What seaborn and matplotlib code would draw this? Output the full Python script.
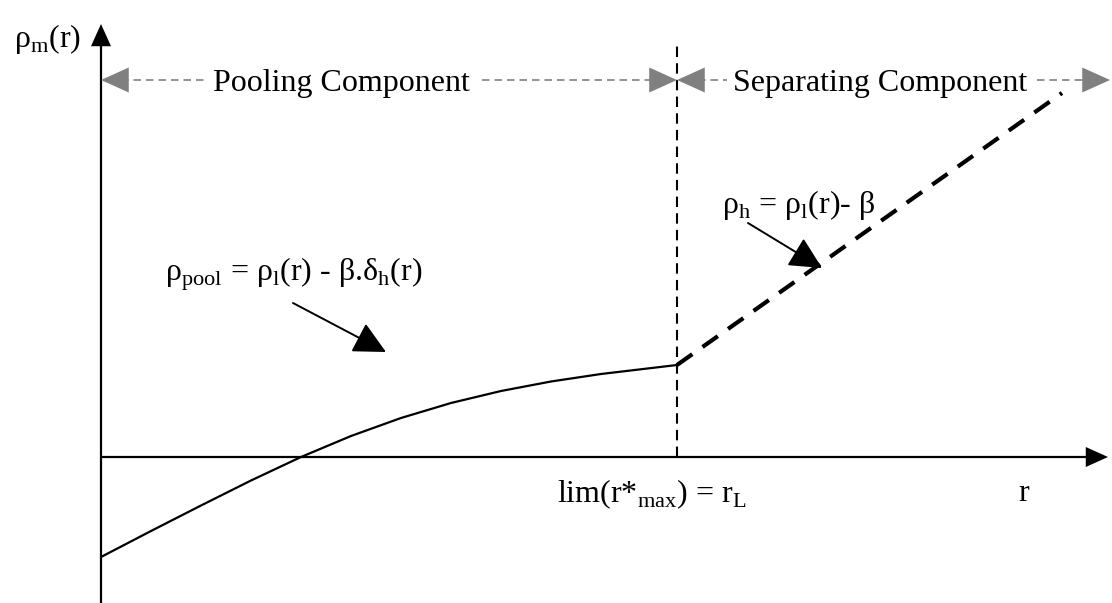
import numpy as np
import pandas as pd
import matplotlib
matplotlib.use('Agg')
import matplotlib.pyplot as plt
import seaborn as sns

# schematic values, origin at the axes crossing (r, rho)
pool_r = [0, 50, 100, 150, 200, 250, 300, 350, 400, 450, 500, 576]
pool_rho = [-100, -74, -48.5, -23.5, 0, 21, 39, 54, 66, 75.5, 83, 92]
sep_r = [576, 961]
sep_rho = [92, 364]
r_L = 576
labels = {
    'ylab': 'ρ$_\\mathregular{m}$(r)',
    'xlab': 'r',
    'pool': 'Pooling Component',
    'sep': 'Separating Component',
    'rL': 'lim(r*$_\\mathregular{max}$) = r$_\\mathregular{L}$',
    'pool_eq': 'ρ$_\\mathregular{pool}$ = ρ$_\\mathregular{l}$(r) - β.δ$_\\mathregular{h}$(r)',
    'sep_eq': 'ρ$_\\mathregular{h}$ = ρ$_\\mathregular{l}$(r)- β',
}

sns.set_style('white')
plt.rcParams['font.family'] = ['Liberation Serif', 'DejaVu Serif']
plt.rcParams['mathtext.fontset'] = 'custom'
plt.rcParams['mathtext.rm'] = 'Liberation Serif'
plt.rcParams['text.color'] = 'black'

fig = plt.figure(figsize=(11.12, 6.03), dpi=100)
ax = fig.add_axes([0, 0, 1, 1])
ax.set_xlim(-101, 1011)
ax.set_ylim(-146, 457)
ax.axis('off')

FS = 23


def head(tip, tail, color='black', length=0.8, width=0.36):
    ax.annotate('', xy=tip, xytext=tail,
                arrowprops=dict(arrowstyle=f'-|>,head_length={length},head_width={width}',
                                color=color, lw=0, shrinkA=0, shrinkB=0,
                                mutation_scale=20))


# axes
ax.plot([0, 0], [-146, 415], color='black', lw=1.6, solid_capstyle='butt')
head((0, 433), (0, 400))
ax.plot([0, 990], [0, 0], color='black', lw=1.6, solid_capstyle='butt')
head((1007, 0), (970, 0))

# r_L divider
ax.plot([r_L, r_L], [0, 412], color='black', lw=1.5, linestyle=(0, (5, 3)))

# curves
df_pool = pd.DataFrame({'r': pool_r, 'rho': pool_rho})
df_sep = pd.DataFrame({'r': sep_r, 'rho': sep_rho})
sns.lineplot(data=df_pool, x='r', y='rho', ax=ax, color='black', lw=1.6, sort=False)
ax.lines[-1].set_solid_joinstyle('round')
sns.lineplot(data=df_sep, x='r', y='rho', ax=ax, color='black', lw=3, sort=False,
             linestyle=(0, (4.5, 3)))
ax.set_xlabel('')
ax.set_ylabel('')

# top component arrows
gray = '#808080'
y_top = 377
dash = (0, (4.5, 3))
ax.plot([20, 106], [y_top, y_top], color=gray, lw=1.2, linestyle=dash)
head((0, y_top), (30, y_top), color=gray, length=1.0, width=0.45)
ax.plot([381, 556], [y_top, y_top], color=gray, lw=1.2, linestyle=dash)
head((576, y_top), (546, y_top), color=gray, length=1.0, width=0.45)
ax.plot([597, 626], [y_top, y_top], color=gray, lw=1.2, linestyle=dash)
head((576, y_top), (606, y_top), color=gray, length=1.0, width=0.45)
ax.plot([936, 988], [y_top, y_top], color=gray, lw=1.2, linestyle=dash)
head((1009, y_top), (979, y_top), color=gray, length=1.0, width=0.45)

ax.text(240, y_top, labels['pool'], fontsize=FS, ha='center', va='center_baseline')
ax.text(779, y_top, labels['sep'], fontsize=FS, ha='center', va='center_baseline')

# labels
ax.text(-53, 422, labels['ylab'], fontsize=FS, ha='center', va='center_baseline')
ax.text(923, -33, labels['xlab'], fontsize=FS, ha='center', va='center_baseline')
ax.text(456, -33, labels['rL'], fontsize=FS, ha='left', va='center_baseline')
ax.text(64, 189, labels['pool_eq'], fontsize=FS, ha='left', va='center_baseline')
ax.text(621, 257, labels['sep_eq'], fontsize=FS, ha='left', va='center_baseline')

# pointer arrows
ax.annotate('', xy=(285, 105), xytext=(192, 154),
            arrowprops=dict(arrowstyle='-|>,head_length=1.0,head_width=0.5',
                            color='black', lw=1.4, shrinkA=0, shrinkB=0, mutation_scale=20))
ax.annotate('', xy=(721, 189), xytext=(647, 234),
            arrowprops=dict(arrowstyle='-|>,head_length=1.0,head_width=0.5',
                            color='black', lw=1.4, shrinkA=0, shrinkB=0, mutation_scale=20))

fig.savefig('out.png', dpi=100)
